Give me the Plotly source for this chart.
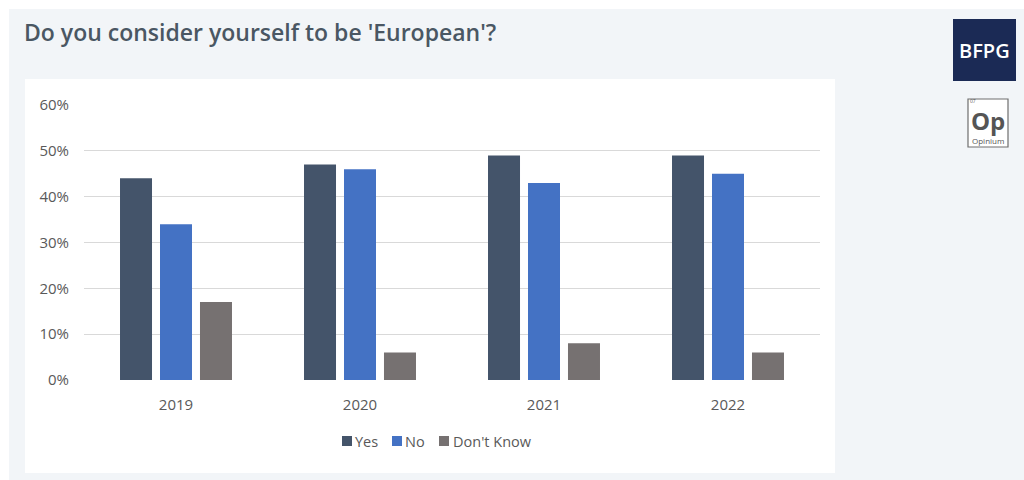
import plotly.graph_objects as go

# Survey results (share of respondents)
years = ["2019", "2020", "2021", "2022"]
yes_vals = [0.44, 0.47, 0.49, 0.49]
no_vals = [0.34, 0.46, 0.43, 0.45]
dont_know_vals = [0.17, 0.06, 0.08, 0.06]
series_names = ["Yes", "No", "Don't Know"]
series_colors = ["#44546A", "#4472C4", "#767171"]
y_ticks = [0, 0.1, 0.2, 0.3, 0.4, 0.5, 0.6]
y_tick_labels = ["0%", "10%", "20%", "30%", "40%", "50%", "60%"]

W, H = 1024, 480
L, R, T, B = 84, 204, 105, 100
PW, PH = W - L - R, H - T - B


def px(x):
    return (x - L) / PW


def py(y):
    return (H - B - y) / PH


fig = go.Figure()
for name, vals, col in zip(series_names, [yes_vals, no_vals, dont_know_vals], series_colors):
    fig.add_trace(go.Bar(x=years, y=vals, name=name, marker=dict(color=col, line=dict(width=0)),
                         hoverinfo="x+y+name", showlegend=False))

shapes = [
    # page backdrop and white chart card
    dict(type="rect", xref="paper", yref="paper", x0=px(9), x1=px(1024), y0=py(480), y1=py(9),
         fillcolor="#F2F5F8", line=dict(width=0), layer="below"),
    dict(type="rect", xref="paper", yref="paper", x0=px(25), x1=px(835), y0=py(473), y1=py(79),
         fillcolor="#FFFFFF", line=dict(width=0), layer="below"),
    # BFPG badge
    dict(type="rect", xref="paper", yref="paper", x0=px(953), x1=px(1016), y0=py(81), y1=py(19),
         fillcolor="#1B2A55", line=dict(width=0), layer="above"),
    # Opinium badge
    dict(type="rect", xref="paper", yref="paper", x0=px(968), x1=px(1008), y0=py(147), y1=py(99),
         fillcolor="#FFFFFF", line=dict(color="#6E6E6E", width=1.2), layer="above"),
]

annotations = [
    dict(text="Do you consider yourself to be 'European'?", xref="paper", yref="paper",
         x=px(22), y=py(32), xanchor="left", yanchor="middle", showarrow=False,
         font=dict(family="Open Sans", size=23, color="#4A5763", weight=600)),
    dict(text="BFPG", xref="paper", yref="paper", x=px(985), y=py(50), xanchor="center",
         yanchor="middle", showarrow=False,
         font=dict(family="Open Sans", size=20, color="#FFFFFF", weight=600)),
    dict(text="Op", xref="paper", yref="paper", x=px(988), y=py(120), xanchor="center",
         yanchor="middle", showarrow=False, borderpad=0,
         font=dict(family="Open Sans", size=24, color="#555555", weight=700)),
    dict(text="Opinium", xref="paper", yref="paper", x=px(988), y=py(140), xanchor="center",
         yanchor="middle", showarrow=False, borderpad=0,
         font=dict(family="Open Sans", size=8, color="#555555")),
    dict(text="07", xref="paper", yref="paper", x=px(969), y=py(101), xanchor="left",
         yanchor="middle", showarrow=False, borderpad=0,
         font=dict(family="Open Sans", size=5, color="#555555")),
]

# Legend: colour key squares followed by series names
legend_sq_x = [342, 392, 439]
legend_txt_x = [354, 404, 452]
for name, col, sx, tx in zip(series_names, series_colors, legend_sq_x, legend_txt_x):
    shapes.append(dict(type="rect", xref="paper", yref="paper", x0=px(sx), x1=px(sx + 10),
                       y0=py(446), y1=py(436), fillcolor=col, line=dict(width=0)))
    annotations.append(dict(text=name, xref="paper", yref="paper", x=px(tx), y=py(441),
                            xanchor="left", yanchor="middle", showarrow=False, borderpad=0,
                            font=dict(family="Open Sans", size=14.5, color="#595959")))

fig.update_layout(
    width=W, height=H,
    margin=dict(l=L, r=R, t=T, b=B, pad=0),
    paper_bgcolor="#FFFFFF", plot_bgcolor="rgba(0,0,0,0)",
    barmode="group", bargap=0.348, bargroupgap=0.2,
    font=dict(family="Open Sans", size=15, color="#595959"),
    showlegend=False,
    shapes=shapes,
    annotations=annotations,
    xaxis=dict(showgrid=False, showline=False, zeroline=False, ticks="",
               tickfont=dict(size=15, color="#595959"), ticklabelstandoff=14),
    yaxis=dict(range=[0, 0.6], tickvals=y_ticks, ticktext=y_tick_labels,
               showgrid=True, gridcolor="#D9D9D9", gridwidth=1,
               zeroline=False, showline=False, ticks="",
               tickfont=dict(size=15, color="#595959"), ticklabelstandoff=14),
)

fig.write_html("out.html")
